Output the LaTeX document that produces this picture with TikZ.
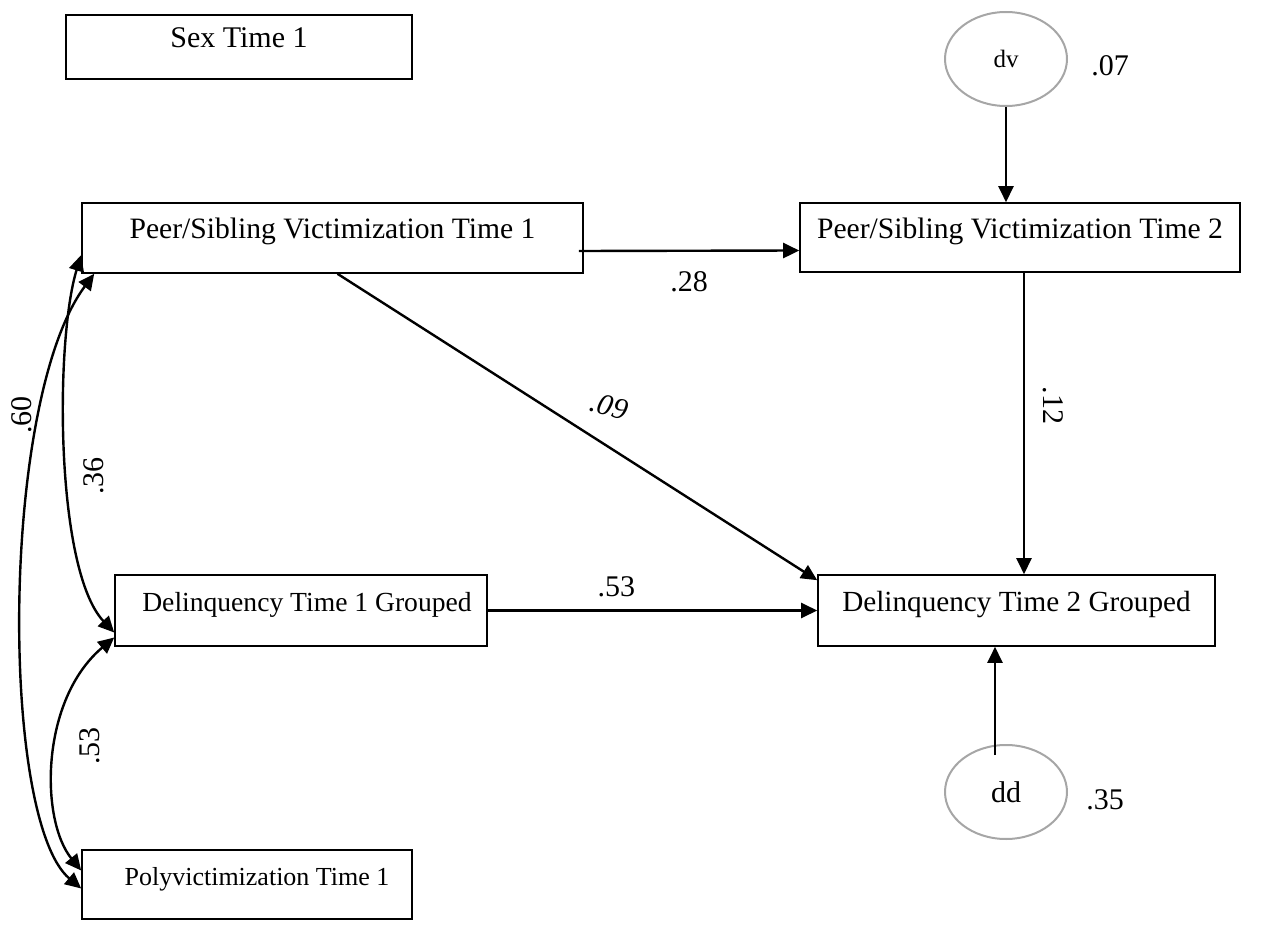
\documentclass[tikz,border=0pt]{standalone}
\usepackage{fontspec}
\setmainfont{Liberation Serif}
\usetikzlibrary{positioning,arrows.meta,shapes.geometric}
\definecolor{rim}{HTML}{A6A6A6}

\begin{document}
\begin{tikzpicture}[x=0.5pt, y=-0.5pt,
    >={Triangle[length=8pt,width=7.5pt]},
    var/.style={draw, line width=0.8pt, inner sep=0pt, text height=10pt, text depth=9pt,
      font=\fontsize{15}{18}\selectfont},
    err/.style={ellipse, draw=rim, line width=1pt, inner sep=0pt,
      minimum width=61pt, minimum height=47pt},
    effect/.style={->, line width=1.2pt},
    cov/.style={<->, line width=1.2pt},
    coef/.style={inner sep=0pt, font=\fontsize{15}{18}\selectfont}]
  \useasboundingbox (0,0) rectangle (1265,931);
  % observed variables
  \node[var, minimum width=173pt, minimum height=32pt] (sexone) at (239,47) {Sex Time 1};
  \node[var, minimum width=250.5pt, minimum height=35pt, font=\fontsize{14.8}{18}\selectfont] (peerone) at (332.5,238) {Peer/Sibling Victimization Time 1};
  \node[var, minimum width=220pt, minimum height=34.5pt, font=\fontsize{14.8}{18}\selectfont] (peertwo) at (1020,237.5) {Peer/Sibling Victimization Time 2};
  \node[var, minimum width=186pt, minimum height=35.5pt, font=\fontsize{13.8}{17}\selectfont] (delone) at (301,610.5) {\hspace{6pt}Delinquency Time 1 Grouped};
  \node[var, minimum width=198.5pt, minimum height=35.5pt, font=\fontsize{14.6}{18}\selectfont] (deltwo) at (1016.5,610.5) {Delinquency Time 2 Grouped};
  \node[var, minimum width=165pt, minimum height=34.5pt, font=\fontsize{13}{16}\selectfont] (polyone) at (247,884.5) {\hspace{10pt}Polyvictimization Time 1};
  % disturbances
  \node[err, font=\fontsize{12.5}{15}\selectfont] (dv) at (1006,59) {dv};
  \node[err, font=\fontsize{15}{18}\selectfont] (dd) at (1006,792) {dd};
  \node[coef] (rdv) at (1110,66) {.07};
  \node[coef] (rdd) at (1105,800) {.35};
  % paths
  \draw[effect] (dv.south) -- (dv.south |- peertwo.north);
  \draw[effect] ([xshift=-5.5pt,yshift=-5.5pt]dd.north) -- ([xshift=-5.5pt]dd.north |- deltwo.south);
  \draw[effect] ([xshift=-2.5pt,yshift=-6.5pt]peerone.east) -- ([yshift=-6.5pt]peertwo.west)
    node[coef, midway, below=10pt] (b28) {.28};
  \draw[effect] ([xshift=2.5pt]peerone.south) -- ([yshift=-3pt]deltwo.north west)
    node[coef, pos=0.56, above=14pt, rotate=-16, font=\fontsize{15}{18}\itshape] (b09) {.09};
  \draw[effect] ([xshift=2pt]peertwo.south) -- ([xshift=2pt]peertwo.south |- deltwo.north)
    node[coef, pos=0.44, right=9pt, rotate=-90, anchor=south] (b12) {.12};
  \draw[effect] (delone.east) -- (deltwo.west)
    node[coef, pos=0.39, above=6pt] (b53) {.53};
  % covariances
  \draw[cov] ([yshift=-11pt]delone.west) .. controls (55,570) and (55,340) .. ([yshift=-8.5pt]peerone.west);
  \draw[cov] ([yshift=-2pt]polyone.west) .. controls (0,820) and (0,400) .. ([xshift=6.5pt]peerone.south west);
  \draw[cov] ([yshift=-13.5pt]delone.west) .. controls (40,700) and (40,820) .. ([yshift=7pt]polyone.west);
  \node[coef, rotate=90] (r60) at (22,415) {.60};
  \node[coef, rotate=90] (r36) at (94,476) {.36};
  \node[coef, rotate=90] (r53) at (90,746) {.53};
\end{tikzpicture}
\end{document}
